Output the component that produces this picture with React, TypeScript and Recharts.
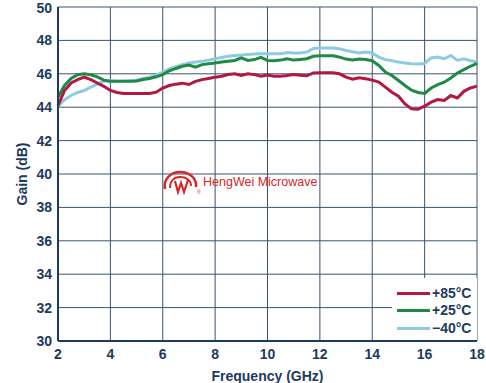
import { LineChart, Line, XAxis, YAxis, CartesianGrid, Legend } from 'recharts';

// frequency points (GHz)
const freqGHz = [
  2, 2.25, 2.5, 2.75, 3, 3.25, 3.5, 3.75, 4, 4.25, 4.5, 4.75, 5, 5.25, 5.5, 5.75,
  6, 6.25, 6.5, 6.75, 7, 7.25, 7.5, 7.75, 8, 8.25, 8.5, 8.75, 9, 9.25, 9.5, 9.75,
  10, 10.25, 10.5, 10.75, 11, 11.25, 11.5, 11.75, 12, 12.25, 12.5, 12.75, 13, 13.25, 13.5, 13.75,
  14, 14.25, 14.5, 14.75, 15, 15.25, 15.5, 15.75, 16, 16.25, 16.5, 16.75, 17, 17.25, 17.5, 17.75, 18,
];

// gain (dB) at +85°C
const gain85 = [
  44.1, 45.0, 45.45, 45.65, 45.8, 45.65, 45.45, 45.25, 45.0, 44.88, 44.82, 44.82, 44.82, 44.82, 44.82, 44.9,
  45.15, 45.3, 45.38, 45.44, 45.36, 45.55, 45.65, 45.72, 45.8, 45.85, 45.96, 46.0, 45.9, 46.0, 45.95, 45.86,
  45.92, 45.86, 45.86, 45.9, 45.96, 45.92, 45.88, 46.05, 46.06, 46.06, 46.06, 46.0, 45.8, 45.68, 45.76, 45.7,
  45.62, 45.5, 45.2, 44.9, 44.66, 44.2, 43.9, 43.88, 44.06, 44.3, 44.46, 44.4, 44.7, 44.55, 44.95, 45.15, 45.26,
];

// gain (dB) at +25°C
const gain25 = [
  44.6, 45.3, 45.72, 45.94, 46.0, 45.94, 45.82, 45.62, 45.55, 45.55, 45.55, 45.55, 45.57, 45.66, 45.72, 45.82,
  45.95, 46.18, 46.32, 46.45, 46.52, 46.4, 46.55, 46.6, 46.65, 46.7, 46.75, 46.8, 46.95, 46.8, 46.85, 46.98,
  46.8, 46.78, 46.82, 46.9, 46.82, 46.86, 46.9, 47.05, 47.08, 47.08, 47.08, 47.0, 46.88, 46.82, 46.88, 46.85,
  46.78, 46.5, 46.1, 45.9, 45.6, 45.3, 45.02, 44.88, 44.82, 45.15, 45.35, 45.5, 45.75, 46.05, 46.25, 46.45, 46.62,
];

// gain (dB) at -40°C
const gainMinus40 = [
  44.05, 44.45, 44.7, 44.88, 45.0, 45.2, 45.38, 45.55, 45.58, 45.55, 45.55, 45.58, 45.62, 45.72, 45.8, 45.92,
  46.1, 46.3, 46.42, 46.55, 46.65, 46.7, 46.75, 46.82, 46.9, 46.98, 47.05, 47.1, 47.12, 47.15, 47.18, 47.2,
  47.2, 47.2, 47.2, 47.28, 47.25, 47.25, 47.3, 47.52, 47.54, 47.54, 47.54, 47.5, 47.4, 47.32, 47.25, 47.3,
  47.25, 47.0, 46.85, 46.78, 46.7, 46.65, 46.6, 46.58, 46.62, 46.95, 47.0, 46.9, 47.1, 46.8, 46.9, 46.78, 46.72,
];

const xTicks = [2, 4, 6, 8, 10, 12, 14, 16, 18];
const yTicks = [30, 32, 34, 36, 38, 40, 42, 44, 46, 48, 50];

const INK = '#1e3a5c';
const GRID = '#3a536d';
const RED = '#b4173f';
const GREEN = '#1f8a46';
const BLUE = '#8fcbe0';
const FONT = '"Liberation Sans", Arial, sans-serif';

const seriesList = [
  { key: 'tm40', name: '−40°C', color: BLUE },
  { key: 't25', name: '+25°C', color: GREEN },
  { key: 't85', name: '+85°C', color: RED },
];

const data = freqGHz.map((f, i) => ({
  f,
  t85: gain85[i],
  t25: gain25[i],
  tm40: gainMinus40[i],
}));

// legend drawn like the datasheet: red on top, blue at bottom
function GainLegend() {
  const items = [...seriesList].reverse();
  return (
    <div style={{ background: '#fff', width: 85, height: 62, paddingTop: 6.5, boxSizing: 'border-box' }}>
      {items.map((it) => (
        <div key={it.key} style={{ display: 'flex', alignItems: 'center', height: 17.5 }}>
          <span style={{ display: 'inline-block', width: 33, height: 3, background: it.color, marginLeft: 5, marginRight: 2 }} />
          <span style={{ font: `bold 14px ${FONT}`, color: INK, lineHeight: '17px' }}>{it.name}</span>
        </div>
      ))}
    </div>
  );
}

function Watermark() {
  const red = '#d6262b';
  return (
    <div style={{ position: 'absolute', left: 161, top: 169, display: 'flex', alignItems: 'center', pointerEvents: 'none' }}>
      <svg width={42} height={26} viewBox="0 0 42 26">
        <path d="M4 20 C2 10 10 3 19 3 C28 3 36 9 35 18" fill="none" stroke={red} strokeWidth={2.5} />
        <path d="M9 19 C9 12 13 8 19 8 C25 8 30 11 30 17" fill="none" stroke={red} strokeWidth={2} />
        <path d="M14 12 L17 23 L20 14 L23 23 L27 11" fill="none" stroke={red} strokeWidth={2.2} />
        <text x={36} y={25} fontSize={5} fill={red} fontFamily={FONT}>®</text>
      </svg>
      <span style={{ font: `12.5px ${FONT}`, color: red, marginLeft: 0 }}>HengWei Microwave</span>
    </div>
  );
}

export default function App() {
  return (
    <div style={{ position: 'absolute', left: 0, top: 0, width: 486, height: 383, background: '#fff' }}>
      <LineChart width={486} height={383} data={data} margin={{ top: 7, right: 9, left: 0, bottom: 0 }}>
        <CartesianGrid stroke={GRID} strokeWidth={1} />
        <XAxis
          dataKey="f"
          type="number"
          domain={[2, 18]}
          ticks={xTicks}
          height={42}
          tickLine={false}
          tickSize={6}
          tickMargin={2}
          axisLine={{ stroke: INK, strokeWidth: 2 }}
          tick={{ fill: INK, fontSize: 14, fontWeight: 'bold', fontFamily: FONT }}
          label={{ value: 'Frequency (GHz)', position: 'insideBottom', offset: 2, fill: INK, fontSize: 14, fontWeight: 'bold', fontFamily: FONT }}
        />
        <YAxis
          type="number"
          domain={[30, 50]}
          ticks={yTicks}
          width={58}
          tickLine={false}
          tickSize={6}
          tickMargin={0}
          axisLine={{ stroke: INK, strokeWidth: 2 }}
          tick={{ fill: INK, fontSize: 14, fontWeight: 'bold', fontFamily: FONT }}
          label={{ value: 'Gain (dB)', angle: -90, position: 'center', dx: -7, fill: INK, fontSize: 14, fontWeight: 'bold', fontFamily: FONT }}
        />
        {seriesList.map((s) => (
          <Line
            key={s.key}
            type="linear"
            dataKey={s.key}
            name={s.name}
            stroke={s.color}
            strokeWidth={3}
            dot={false}
            isAnimationActive={false}
          />
        ))}
        <Legend
          layout="vertical"
          align="center"
          verticalAlign="middle"
          content={<GainLegend />}
          wrapperStyle={{ left: 392, top: 278, width: 85, height: 62, bottom: 'auto', right: 'auto' }}
        />
      </LineChart>
      <Watermark />
    </div>
  );
}
